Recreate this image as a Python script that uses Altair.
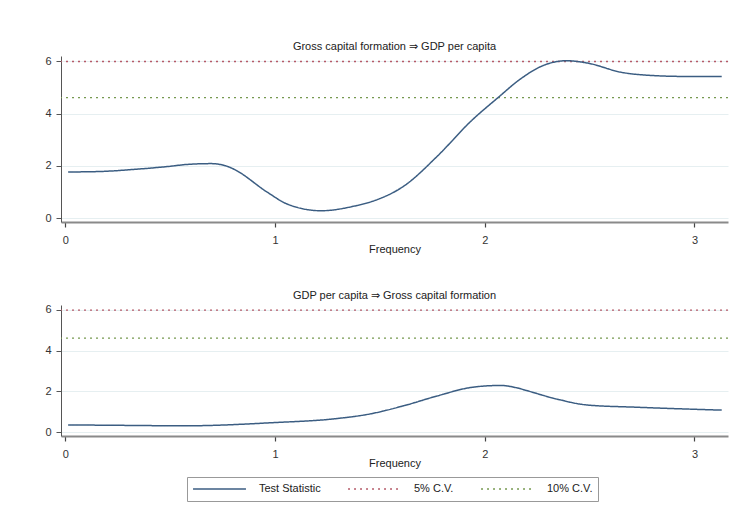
import altair as alt
import pandas as pd

# Test statistic across frequencies, Gross capital formation => GDP per capita
freq_1 = [0.014, 0.17, 0.33, 0.49, 0.584, 0.695, 0.775, 0.806, 0.965, 1.06, 1.22,
          1.38, 1.457, 1.616, 1.775, 1.933, 2.065, 2.17, 2.28, 2.39, 2.49, 2.65,
          2.81, 2.95, 3.13]
stat_1 = [1.77, 1.79, 1.87, 1.98, 2.06, 2.09, 1.98, 1.87, 0.99, 0.54, 0.29,
          0.47, 0.63, 1.24, 2.38, 3.70, 4.62, 5.32, 5.84, 6.02, 5.93, 5.58,
          5.45, 5.42, 5.42]

# Test statistic across frequencies, GDP per capita => Gross capital formation
freq_2 = [0.014, 0.30, 0.57, 1.0, 1.28, 1.457, 1.616, 1.775, 1.933, 1.995, 2.076,
          2.155, 2.2, 2.345, 2.49, 2.73, 3.13]
stat_2 = [0.355, 0.33, 0.31, 0.47, 0.65, 0.90, 1.30, 1.78, 2.19, 2.26, 2.29,
          2.17, 2.04, 1.62, 1.33, 1.22, 1.08]

series = ["Test Statistic", "5% C.V.", "10% C.V."]
cv_values = [5.99, 4.61]
titles = ["Gross capital formation \u21d2 GDP per capita",
          "GDP per capita \u21d2 Gross capital formation"]
x_ticks = [0, 1, 2, 3]
y_ticks = [0, 2, 4, 6]

FONT = "Liberation Sans"
color_scale = alt.Scale(domain=series, range=["#3b5d82", "#b55a68", "#76994f"])
dash_scale = alt.Scale(domain=series, range=[[1, 0], [2, 4], [2, 4]])


def panel(freq, stat, title, ydomain, height):
    curve = pd.DataFrame({"freq": freq, "stat": stat, "series": series[0]})
    cv = pd.DataFrame({"stat": cv_values, "series": series[1:]})
    x = alt.X("freq:Q",
              scale=alt.Scale(domain=[-0.02, 3.16], nice=False, zero=False),
              axis=alt.Axis(values=x_ticks, title="Frequency", grid=False,
                            domainColor="#8a8a8a", domainWidth=2,
                            tickColor="#444", tickWidth=1.2, tickSize=5,
                            labelPadding=7, titleBaseline="middle", titleY=27))
    y = alt.Y("stat:Q",
              scale=alt.Scale(domain=ydomain, nice=False, zero=False),
              axis=alt.Axis(values=y_ticks, title=None, grid=True,
                            gridColor="#e6eff1", domainColor="#555",
                            tickColor="#555", tickSize=5, labelPadding=5))
    color = alt.Color("series:N", scale=color_scale, title=None)
    dash = alt.StrokeDash("series:N", scale=dash_scale, title=None)
    rules = alt.Chart(cv).mark_rule(strokeWidth=1.3).encode(y=y, color=color, strokeDash=dash)
    line = alt.Chart(curve).mark_line(interpolate="monotone", strokeWidth=1.5).encode(
        x=x, y=alt.Y("stat:Q"), color=color, strokeDash=dash)
    return alt.layer(rules, line).properties(
        width=667, height=height,
        title=alt.TitleParams(title, fontSize=11, font=FONT, fontWeight="normal",
                              color="#222", offset=3, anchor="middle"))


top = panel(freq_1, stat_1, titles[0], [-0.14, 6.2], 166)
bottom = panel(freq_2, stat_2, titles[1], [-0.19, 6.24], 131)

chart = alt.vconcat(top, bottom, spacing=35).properties(
    padding={"left": 44, "top": 41, "right": 10, "bottom": 10},
    background="white",
).configure_view(stroke=None).configure_axis(
    labelFont=FONT, titleFont=FONT, labelFontSize=11, titleFontSize=11,
    labelColor="#333", titleColor="#222", titleFontWeight="normal",
).configure_legend(
    orient="none", legendX=126, legendY=421, direction="horizontal",
    strokeColor="#999", padding=5, labelFont=FONT, labelFontSize=11,
    labelColor="#222", symbolType="stroke", symbolSize=2800, symbolStrokeWidth=1.5,
    columnPadding=26, labelOffset=12, clipHeight=14,
)

chart.save("out.html", embed_options={"renderer": "svg", "actions": False})
